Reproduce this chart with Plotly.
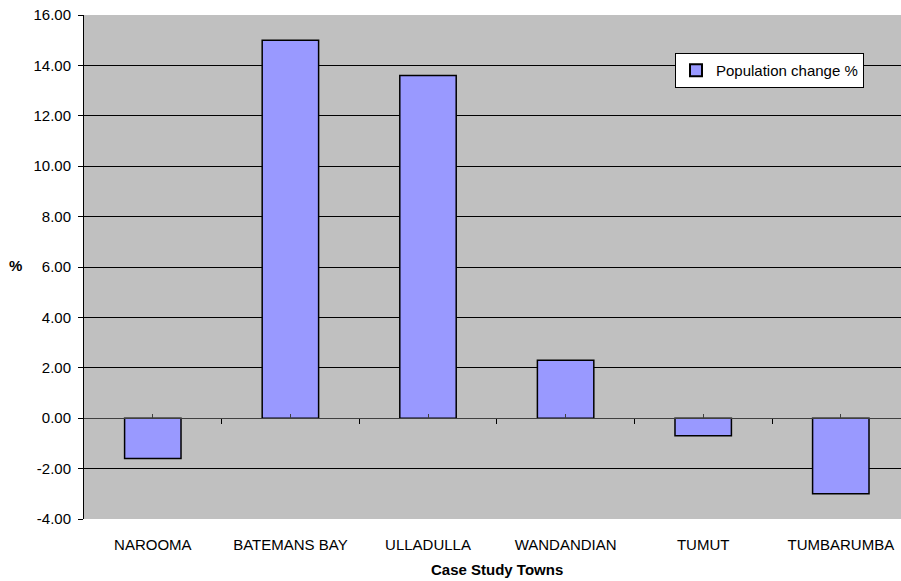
import plotly.graph_objects as go

towns = ["NAROOMA", "BATEMANS BAY", "ULLADULLA", "WANDANDIAN", "TUMUT", "TUMBARUMBA"]
pop_change = [-1.6, 15.0, 13.6, 2.3, -0.7, -3.0]
series_name = "Population change %"
y_ticks = [-4, -2, 0, 2, 4, 6, 8, 10, 12, 14, 16]
y_tick_labels = [f"{v:.2f}" for v in y_ticks]

FONT = "Liberation Sans, Arial, sans-serif"
n = len(towns)
x_right = -0.5 + 817 / 137.6  # plot area extends slightly past the window edge

fig = go.Figure()
fig.add_trace(go.Bar(
    x=towns, y=pop_change, name=series_name,
    marker=dict(color="#9999FF", line=dict(color="black", width=1.5)),
    showlegend=True,
))
# invisible helper trace to drive the category-crossing axis at y=0
fig.add_trace(go.Scatter(
    x=list(range(n)), y=pop_change, xaxis="x2", mode="markers",
    marker=dict(opacity=0), showlegend=False, hoverinfo="skip",
))

fig.update_layout(
    width=901, height=581,
    margin=dict(l=84, r=0, t=15, b=62),
    paper_bgcolor="white", plot_bgcolor="#C0C0C0",
    font=dict(family=FONT, size=15, color="black"),
    bargap=0.59,
    showlegend=True,
    legend=dict(
        x=(675 - 84) / 817, y=(519 - 53) / 504, xanchor="left", yanchor="top",
        bgcolor="white", bordercolor="black", borderwidth=1,
        font=dict(family=FONT, size=15, color="black"),
        itemsizing="constant",
    ),
    xaxis=dict(
        type="category", range=[-0.5, x_right],
        showgrid=False, zeroline=False, showline=False,
        ticks="outside", ticklen=12, tickcolor="rgba(0,0,0,0)",
        tickfont=dict(family=FONT, size=15, color="black"),
    ),
    xaxis2=dict(
        overlaying="x", anchor="free", position=4 / 20,
        range=[-0.5, x_right], showgrid=False, zeroline=False,
        showline=True, linecolor="#404040", linewidth=1,
        tickmode="array", tickvals=[i + 0.5 for i in range(n - 1)],
        ticks="outside", ticklen=5, tickcolor="black", tickwidth=1,
        showticklabels=False,
        minor=dict(tickmode="array", tickvals=list(range(n)), ticks="inside",
                   ticklen=4, tickcolor="#404040", tickwidth=1),
    ),
    yaxis=dict(
        range=[y_ticks[0], y_ticks[-1]], tickmode="array", tickvals=y_ticks,
        ticktext=y_tick_labels,
        showgrid=True, gridcolor="black", gridwidth=1,
        zeroline=False,
        showline=True, linecolor="black", linewidth=1,
        ticks="outside", ticklen=5, tickcolor="black",
        ticklabelstandoff=4,
        tickfont=dict(family=FONT, size=15, color="black"),
    ),
    annotations=[
        dict(text="<b>Case Study Towns</b>", xref="x", x=(n - 1) / 2,
             yref="paper", y=(519 - 569) / 504, xanchor="center", yanchor="middle",
             showarrow=False, font=dict(family=FONT, size=15, color="black")),
        dict(text="<b>%</b>", xref="paper", x=(15.5 - 84) / 817,
             yref="paper", y=(519 - 265) / 504, xanchor="center", yanchor="middle",
             showarrow=False, font=dict(family=FONT, size=15, color="black")),
    ],
)

fig.write_html("out.html")
